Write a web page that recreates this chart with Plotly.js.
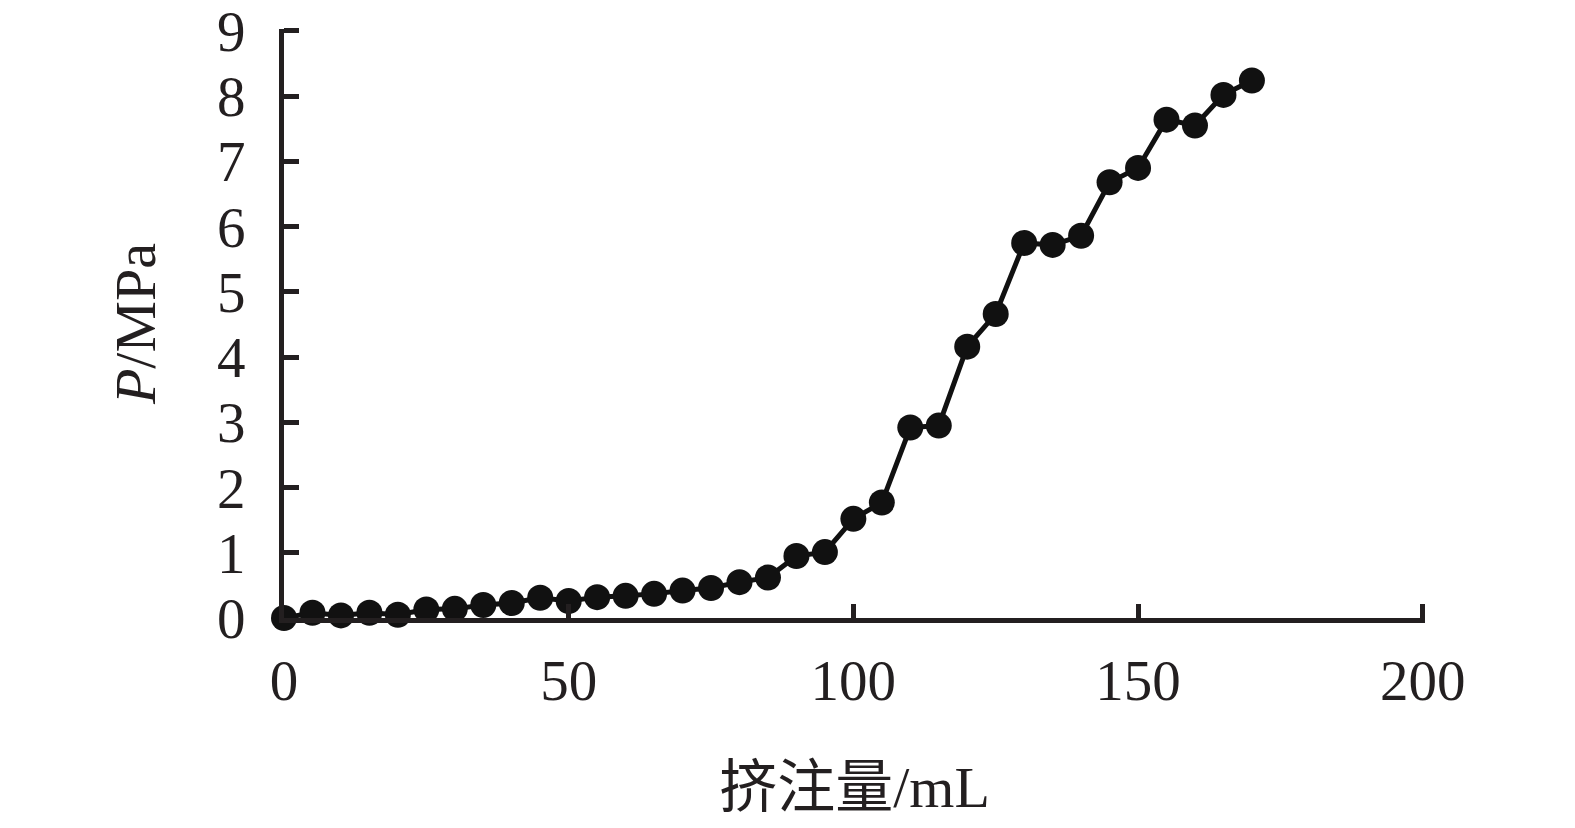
<!DOCTYPE html>
<html>
<head>
<meta charset="utf-8">
<script src="https://cdn.plot.ly/plotly-3.0.1.min.js"></script>
<style>html,body{margin:0;padding:0;background:#fff;}#chart{width:1575px;height:828px;}</style>
</head>
<body>
<div id="chart"></div>
<script>
const volume = [0, 5, 10, 15, 20, 25, 30, 35, 40, 45, 50, 55, 60, 65, 70, 75, 80, 85, 90, 95, 100, 105, 110, 115, 120, 125, 130, 135, 140, 145, 150, 155, 160, 165, 170];
const pressure = [0, 0.08, 0.04, 0.08, 0.05, 0.13, 0.14, 0.2, 0.23, 0.31, 0.26, 0.32, 0.34, 0.37, 0.42, 0.46, 0.55, 0.62, 0.95, 1.01, 1.52, 1.77, 2.92, 2.95, 4.16, 4.66, 5.75, 5.72, 5.86, 6.68, 6.9, 7.64, 7.55, 8.02, 8.24];
const xTickVals = [0, 50, 100, 150, 200];
const yTickVals = [0, 1, 2, 3, 4, 5, 6, 7, 8, 9];
const xTitle = '挤注量/mL';
const yTitle = '<i>P</i>/MPa';

const fontFam = '"Liberation Serif", "Times New Roman", "Noto Sans CJK SC", serif';
const trace = {
  x: volume, y: pressure, type: 'scatter', mode: 'lines+markers',
  line: {color: '#111', width: 5},
  marker: {color: '#111', size: 26},
  cliponaxis: false, showlegend: false
};
const layout = {
  width: 1575, height: 828,
  margin: {l: 284, r: 150, t: 29, b: 210},
  paper_bgcolor: '#fff', plot_bgcolor: '#fff',
  font: {family: fontFam, color: '#231f20', size: 57},
  xaxis: {
    range: [0, 200.4], tickvals: xTickVals, ticks: 'inside', ticklen: 14, tickwidth: 5,
    tickcolor: '#231f20', showline: true, linewidth: 5, linecolor: '#231f20',
    showgrid: false, zeroline: false, ticklabelstandoff: 9, ticklabeloverflow: 'allow',
    tickfont: {family: fontFam, size: 57, color: '#231f20'},
    title: {text: xTitle, standoff: 56, font: {family: fontFam, size: 58, color: '#231f20'}},
    automargin: false
  },
  yaxis: {
    range: [0, 9.03], tickvals: yTickVals, ticks: 'inside', ticklen: 15, tickwidth: 5,
    tickcolor: '#231f20', showline: true, linewidth: 5, linecolor: '#231f20',
    showgrid: false, zeroline: false, ticklabelstandoff: 22, ticklabeloverflow: 'allow',
    tickfont: {family: fontFam, size: 57, color: '#231f20'},
    title: {text: yTitle, standoff: 44, font: {family: fontFam, size: 58, color: '#231f20'}},
    automargin: false
  }
};
Plotly.newPlot('chart', [trace], layout, {displayModeBar: false, staticPlot: true});
</script>
</body>
</html>
